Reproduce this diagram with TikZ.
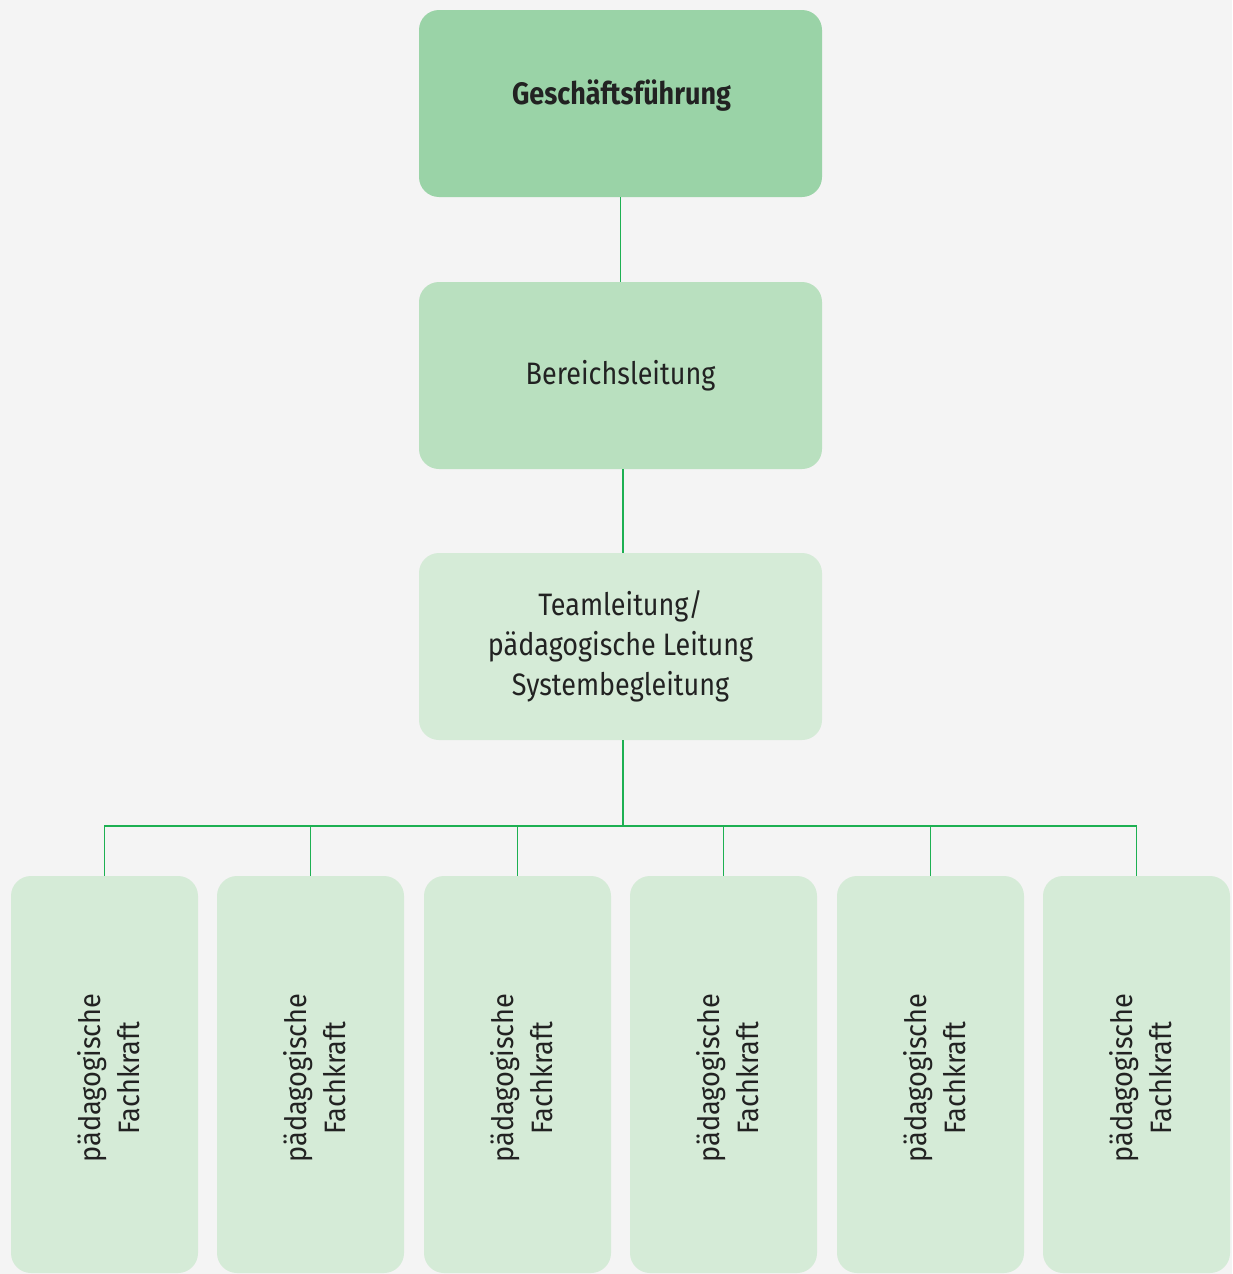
\documentclass[tikz,border=0pt]{standalone}
\usepackage{fontspec}
\setmainfont{Fira Sans}[FakeStretch=0.87]
\newfontfamily\rotfont{Fira Sans}[FakeStretch=0.92]
\definecolor{bg}{HTML}{F4F4F4}
\definecolor{lvlA}{HTML}{9AD3A7}
\definecolor{lvlB}{HTML}{B9E0BF}
\definecolor{lvlC}{HTML}{D5EBD7}
\definecolor{link}{HTML}{1DB052}
\definecolor{ink}{HTML}{222222}
\begin{document}
\begin{tikzpicture}[x=1pt,y=-1pt,
  box/.style={rounded corners=20pt, inner sep=0pt, text=ink, align=center},
  topbox/.style={box, fill=lvlA, minimum width=403pt, minimum height=187pt},
  midbox/.style={box, fill=lvlB, minimum width=403pt, minimum height=187pt, font=\fontsize{31}{40}\selectfont},
  teambox/.style={box, fill=lvlC, minimum width=403pt, minimum height=187pt, font=\fontsize{31}{40}\selectfont},
  toptext/.style={inner sep=0pt, text=ink, font=\fontsize{31}{40}\selectfont\bfseries},
  staffbox/.style={box, fill=lvlC, minimum width=187pt, minimum height=397pt},
  stafftext/.style={rotate=90, align=center, text=ink, inner sep=0pt, font=\rotfont\fontsize{29.5}{39}\selectfont},
  conn/.style={draw=link, line width=1.8pt}]
\useasboundingbox[fill=bg] (0,0) rectangle (1232,1274);
\node[topbox] (gf) at (620.5,103.5) {};
\node[toptext] (gft) at (621.5,96) {Geschäftsführung};
\node[midbox] (bl) at (620.5,375.5) {Bereichsleitung};
\node[teambox] (tl) at (620.5,646.5) {Teamleitung/\\pädagogische Leitung\\Systembegleitung};
\foreach \i/\x in {1/104.5,2/310.5,3/517.5,4/723.5,5/930.5,6/1136.5}{
  \node[staffbox] (f\i) at (\x,1074.5) {};
  \node[stafftext] (t\i) at (\x+4,1078) {pädagogische\\Fachkraft};
}
\coordinate (bus) at (623,826);
\draw[conn] (gf.south) -- (bl.north);
\draw[conn] ([xshift=2.5pt]bl.south) -- ([xshift=2.5pt]tl.north);
\draw[conn] ([xshift=2.5pt]tl.south) -- (bus);
\draw[conn] (f1.north) -- (f1.north |- bus) -- (f6.north |- bus) -- (f6.north);
\foreach \i in {2,3,4,5}{
  \draw[conn] (f\i.north) -- (f\i.north |- bus);
}
\end{tikzpicture}
\end{document}
